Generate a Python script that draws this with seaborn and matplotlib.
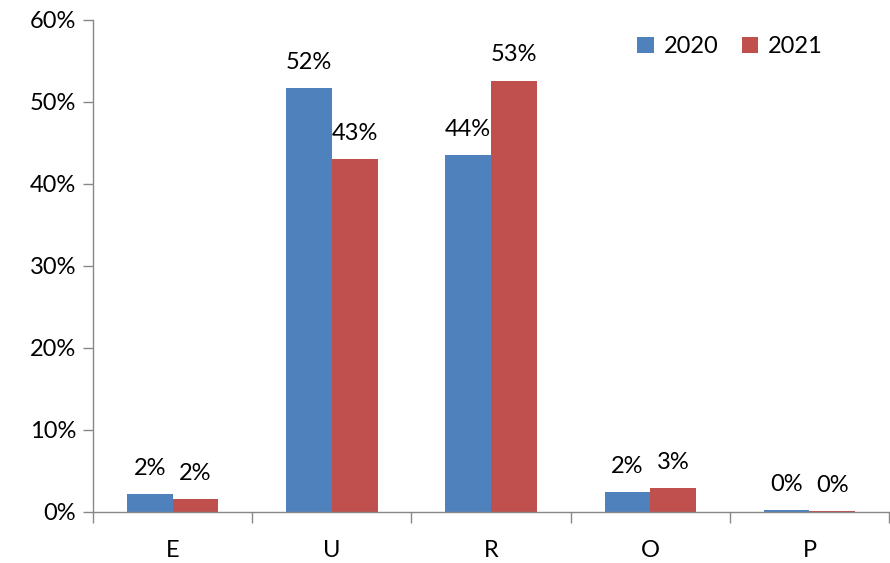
import numpy as np
import pandas as pd
import seaborn as sn
import matplotlib.pyplot as plt
from matplotlib.ticker import FixedLocator, PercentFormatter

# data
categories = ["E", "U", "R", "O", "P"]
y2020 = [2.2, 51.7, 43.5, 2.4, 0.2]
y2021 = [1.6, 43.0, 52.6, 2.9, 0.1]
years = ["2020", "2021"]

df = pd.DataFrame({
    "cat": categories * 2,
    "year": [years[0]] * 5 + [years[1]] * 5,
    "val": y2020 + y2021,
})

sn.set_style("white")
plt.rcParams['font.family'] = ['Lato', 'DejaVu Sans']
plt.rcParams['text.color'] = 'black'

fig = plt.figure(figsize=(8.9, 5.63), dpi=100)
ax = fig.add_axes([0.1045, 0.0906, 0.8945, 0.8739])

sn.barplot(data=df, x="cat", y="val", hue="year", order=categories,
           palette=["#4F81BD", "#C0504D"], width=0.575, gap=0,
           saturation=1, linewidth=0, ax=ax, legend=True)

for cont in ax.containers:
    ax.bar_label(cont, labels=[f"{round(v.get_height())}%" for v in cont],
                 padding=11, fontsize=17, color="black")

ax.set_ylim(0, 60)
ax.set_xlim(-0.5, 4.5)
ax.set_yticks(np.arange(0, 61, 10))
ax.yaxis.set_major_formatter(PercentFormatter(decimals=0))
ax.set_xlabel("")
ax.set_ylabel("")

ax.tick_params(axis="y", labelsize=17, length=7, width=1, color="#888888",
               labelcolor="black", direction="out", left=True, pad=5)
ax.tick_params(axis="x", which="major", length=0, labelsize=17,
               labelcolor="black", pad=20)
ax.xaxis.set_minor_locator(FixedLocator(np.arange(-0.5, 4.6, 1)))
ax.tick_params(axis="x", which="minor", length=8, width=1, color="#888888",
               direction="out", bottom=True)

for s in ["top", "right"]:
    ax.spines[s].set_visible(False)
for s in ["left", "bottom"]:
    ax.spines[s].set_color("#888888")
    ax.spines[s].set_linewidth(1)

ax.legend(frameon=False, ncol=2, fontsize=17, loc="upper right",
          bbox_to_anchor=(0.943, 1.01), handlelength=0.7, handleheight=0.7,
          handletextpad=0.4, columnspacing=1.0)

fig.savefig("out.png", dpi=100)
